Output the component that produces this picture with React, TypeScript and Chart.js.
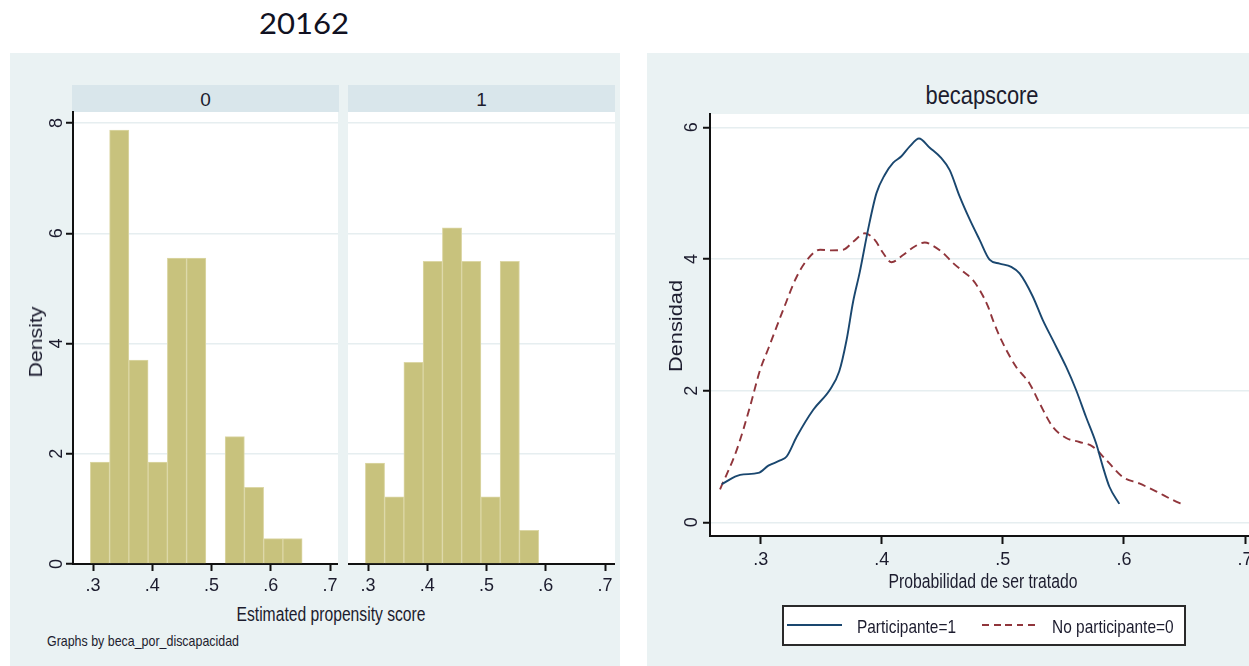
import React, { useEffect, useRef } from "react";
import { Chart, registerables } from "chart.js";

Chart.register(...registerables);

// ---------- data ----------
const binCenters = [0.31175, 0.34425, 0.37675, 0.40925, 0.44175, 0.47425, 0.50675, 0.53925, 0.57175, 0.60425, 0.63675];
const densityGroup0 = [1.85, 7.87, 3.7, 1.85, 5.55, 5.55, 0, 2.31, 1.39, 0.46, 0.46];
const densityGroup1 = [1.83, 1.22, 3.66, 5.49, 6.1, 5.49, 1.22, 5.49, 0.61];
const histTicksX = [0.3, 0.4, 0.5, 0.6, 0.7];
const histTicksY = [0, 2, 4, 6, 8];
const kdeTicksX = [0.3, 0.4, 0.5, 0.6, 0.7];
const kdeTicksY = [0, 2, 4, 6];

const participanteX = [0.2678, 0.283, 0.298, 0.3063, 0.316, 0.3214, 0.3297, 0.3434, 0.357, 0.3648, 0.3709, 0.3763, 0.3818, 0.3887, 0.3956, 0.4025, 0.4093, 0.4162, 0.4231, 0.4307, 0.4396, 0.4492, 0.4561, 0.4643, 0.4726, 0.4808, 0.489, 0.4973, 0.5069, 0.5138, 0.5247, 0.533, 0.5412, 0.5523, 0.5605, 0.5687, 0.577, 0.5825, 0.588, 0.5962];
const participanteY = [0.58, 0.72, 0.75, 0.86, 0.94, 1.0, 1.3, 1.71, 2.01, 2.29, 2.77, 3.35, 3.8, 4.45, 5.0, 5.28, 5.46, 5.56, 5.71, 5.83, 5.69, 5.53, 5.35, 4.95, 4.6, 4.29, 3.99, 3.93, 3.88, 3.78, 3.43, 3.07, 2.77, 2.36, 2.01, 1.6, 1.2, 0.85, 0.54, 0.28];
const noParticipanteX = [0.2664, 0.2802, 0.2912, 0.2994, 0.3063, 0.3186, 0.3297, 0.3393, 0.349, 0.358, 0.368, 0.3763, 0.386, 0.3942, 0.4011, 0.408, 0.4176, 0.4272, 0.4355, 0.4423, 0.4506, 0.4588, 0.4671, 0.4753, 0.4808, 0.4877, 0.4918, 0.4987, 0.511, 0.522, 0.5303, 0.5412, 0.5523, 0.5632, 0.5742, 0.5852, 0.5989, 0.6127, 0.6265, 0.6402, 0.6498];
const noParticipanteY = [0.5, 1.1, 1.76, 2.31, 2.64, 3.23, 3.73, 4.01, 4.14, 4.13, 4.14, 4.26, 4.39, 4.29, 4.09, 3.95, 4.06, 4.19, 4.25, 4.2, 4.09, 3.94, 3.81, 3.68, 3.53, 3.28, 3.07, 2.77, 2.36, 2.11, 1.81, 1.45, 1.28, 1.22, 1.15, 0.95, 0.69, 0.59, 0.47, 0.34, 0.26];

// ---------- styles ----------
const FONT = "'Liberation Sans', Arial, sans-serif";
const TEXT = "#1c1c2e";
const PANEL = "#eaf2f3";
const STRIP = "#d9e6eb";
const GRID = "#e6eef0";
const BAR = "#c8c27d";
const BAR_EDGE = "#dcd7a6";
const BLUE = "#1a476f";
const RED = "#90353b";

let measureCtx: CanvasRenderingContext2D | null = null;
function measure(text: string, font: string) {
  if (!measureCtx) measureCtx = document.createElement("canvas").getContext("2d");
  measureCtx!.font = font;
  return measureCtx!.measureText(text).width;
}

function Txt(props: any) {
  const { text, x, y, size, width, anchor = "center", rotate = false, family = FONT, weight = 400, color = TEXT } = props;
  const font = `${weight} ${size}px ${family}`;
  const sx = width ? width / measure(text, font) : 1;
  const transform =
    anchor === "left"
      ? `translateY(-50%) scaleX(${sx})`
      : `translate(-50%, -50%)${rotate ? " rotate(-90deg)" : ""} scaleX(${sx})`;
  return (
    <div
      style={{
        position: "absolute",
        left: x,
        top: y,
        font,
        lineHeight: 1,
        color,
        whiteSpace: "nowrap",
        transform,
        transformOrigin: anchor === "left" ? "left center" : "center center",
      }}
    >
      {text}
    </div>
  );
}

const plotBg = {
  id: "plotBg",
  beforeDraw(chart: any) {
    const { ctx, chartArea: a } = chart;
    ctx.save();
    ctx.fillStyle = "#ffffff";
    ctx.fillRect(a.left, a.top, a.right - a.left, a.bottom - a.top);
    ctx.restore();
  },
};

const fmtX = (v: number) => "." + Math.round(v * 10);

function xAxis(min: number, max: number, ticks: number[], h: number, tickLen: number, pad: number) {
  return {
    type: "linear",
    min,
    max,
    offset: false,
    z: 1,
    afterBuildTicks: (s: any) => {
      s.ticks = ticks.map((v) => ({ value: v }));
    },
    afterFit: (s: any) => {
      s.height = h;
      s.paddingLeft = 0;
      s.paddingRight = 0;
    },
    border: { display: true, color: "#111", width: 2 },
    grid: { display: true, drawOnChartArea: false, drawTicks: true, tickLength: tickLen, tickColor: "#111", tickWidth: 2, offset: false },
    ticks: { color: TEXT, font: { family: FONT, size: 18 }, padding: pad, maxRotation: 0, minRotation: 0, autoSkip: false, callback: (v: number) => fmtX(v) },
  };
}

function yAxis(min: number, max: number, ticks: number[], w: number, show: boolean, pad: number) {
  return {
    type: "linear",
    min,
    max,
    afterBuildTicks: (s: any) => {
      s.ticks = ticks.map((v) => ({ value: v }));
    },
    afterFit: (s: any) => {
      s.width = w;
      s.paddingTop = 0;
      s.paddingBottom = 0;
    },
    border: { display: show, color: "#111", width: 2 },
    grid: { color: GRID, lineWidth: 1.5, drawTicks: show, tickLength: 7, tickColor: "#111", tickWidth: 2 },
    ticks: {
      display: show,
      color: TEXT,
      font: { family: FONT, size: 18 },
      minRotation: 90,
      maxRotation: 90,
      crossAlign: "center",
      padding: pad,
      autoSkip: false,
      callback: (v: number) => String(v),
    },
  };
}

function histConfig(values: number[], showY: boolean, xmin: number, xmax: number) {
  return {
    type: "bar",
    data: {
      datasets: [
        {
          data: values.map((v, i) => ({ x: binCenters[i], y: v })),
          backgroundColor: BAR,
          borderColor: BAR_EDGE,
          borderWidth: 1,
          barPercentage: 1,
          categoryPercentage: 1,
        },
      ],
    },
    options: {
      responsive: false,
      animation: false,
      events: [],
      layout: { padding: { top: 10, left: 0, right: 0, bottom: 0 } },
      plugins: { legend: { display: false }, tooltip: { enabled: false }, title: { display: false } },
      scales: {
        x: xAxis(xmin, xmax, histTicksX, 36, 7, 4),
        y: yAxis(0, 8.2, histTicksY, showY ? 33 : 0, showY, 4),
      },
    },
    plugins: [plotBg],
  };
}

function kdeConfig() {
  return {
    type: "line",
    data: {
      datasets: [
        {
          label: "Participante=1",
          data: participanteX.map((x, i) => ({ x, y: participanteY[i] })),
          borderColor: BLUE,
          borderWidth: 1.9,
          pointRadius: 0,
          fill: false,
          cubicInterpolationMode: "monotone",
        },
        {
          label: "No participante=0",
          data: noParticipanteX.map((x, i) => ({ x, y: noParticipanteY[i] })),
          borderColor: RED,
          borderWidth: 1.9,
          borderDash: [8, 5],
          pointRadius: 0,
          fill: false,
          cubicInterpolationMode: "monotone",
        },
      ],
    },
    options: {
      responsive: false,
      animation: false,
      events: [],
      layout: { padding: { top: 10, left: 0, right: 10, bottom: 0 } },
      plugins: { legend: { display: false }, tooltip: { enabled: false }, title: { display: false } },
      scales: {
        x: xAxis(0.2581, 0.7033, kdeTicksX, 40, 8, 5),
        y: yAxis(-0.208, 6.202, kdeTicksY, 60, true, 6),
      },
    },
    plugins: [plotBg],
  };
}

function ChartCanvas(props: any) {
  const { left, top, width, height, make } = props;
  const ref = useRef<HTMLCanvasElement | null>(null);
  useEffect(() => {
    const chart = new Chart(ref.current as HTMLCanvasElement, make() as any);
    return () => chart.destroy();
  }, []);
  return (
    <canvas
      ref={ref}
      width={width}
      height={height}
      style={{ position: "absolute", left, top, width, height, display: "block" }}
    />
  );
}

function box(left: number, top: number, width: number, height: number, background: string) {
  return <div style={{ position: "absolute", left, top, width, height, background }} />;
}

export default function App() {
  return (
    <div
      style={{
        position: "absolute",
        left: 0,
        top: 0,
        width: 1249,
        height: 666,
        overflow: "hidden",
        background: "#ffffff",
      }}
    >
      <Txt text="20162" x={304} y={23} size={28} width={90} family="Lato, 'Open Sans', sans-serif" color="#111122" />

      {/* left panel */}
      {box(10, 53, 610, 613, PANEL)}
      {box(72, 85, 267, 27, STRIP)}
      {box(348, 85, 267, 27, STRIP)}
      <Txt text="0" x={205.5} y={98.5} size={19} />
      <Txt text="1" x={481.5} y={98.5} size={19} />
      <ChartCanvas left={40} top={102} width={298} height={498} make={() => histConfig(densityGroup0, true, 0.26624, 0.7135)} />
      <ChartCanvas left={348} top={102} width={267} height={498} make={() => histConfig(densityGroup1, false, 0.2662, 0.7168)} />
      <Txt text="Density" x={36} y={342} size={18} width={71} rotate />
      <Txt text="Estimated propensity score" x={331} y={614} size={20} width={189} />
      <Txt text="Graphs by beca_por_discapacidad" x={46.7} y={639.5} size={15} width={192} anchor="left" />

      {/* right panel */}
      {box(647, 53, 602, 613, PANEL)}
      <Txt text="becapscore" x={981.5} y={94.5} size={26} width={113} />
      <ChartCanvas left={650} top={104} width={609} height={472} make={() => kdeConfig()} />
      <Txt text="Densidad" x={676} y={326} size={18} width={92} rotate />
      <Txt text="Probabilidad de ser tratado" x={982.5} y={580.5} size={20} width={189} />

      {/* legend */}
      <div
        style={{
          position: "absolute",
          left: 781.7,
          top: 605,
          width: 404.3,
          height: 40.7,
          boxSizing: "border-box",
          border: "2px solid #2a2a2a",
          background: "#ffffff",
        }}
      />
      <div style={{ position: "absolute", left: 786.7, top: 624, width: 55, height: 2, background: BLUE }} />
      <div
        style={{
          position: "absolute",
          left: 981.7,
          top: 624,
          width: 57,
          height: 2,
          background: `repeating-linear-gradient(to right, ${RED} 0px, ${RED} 7px, transparent 7px, transparent 11.5px)`,
        }}
      />
      <Txt text="Participante=1" x={856.7} y={625.5} size={19} width={99} anchor="left" />
      <Txt text="No participante=0" x={1051.7} y={625.5} size={19} width={121.6} anchor="left" />
    </div>
  );
}
